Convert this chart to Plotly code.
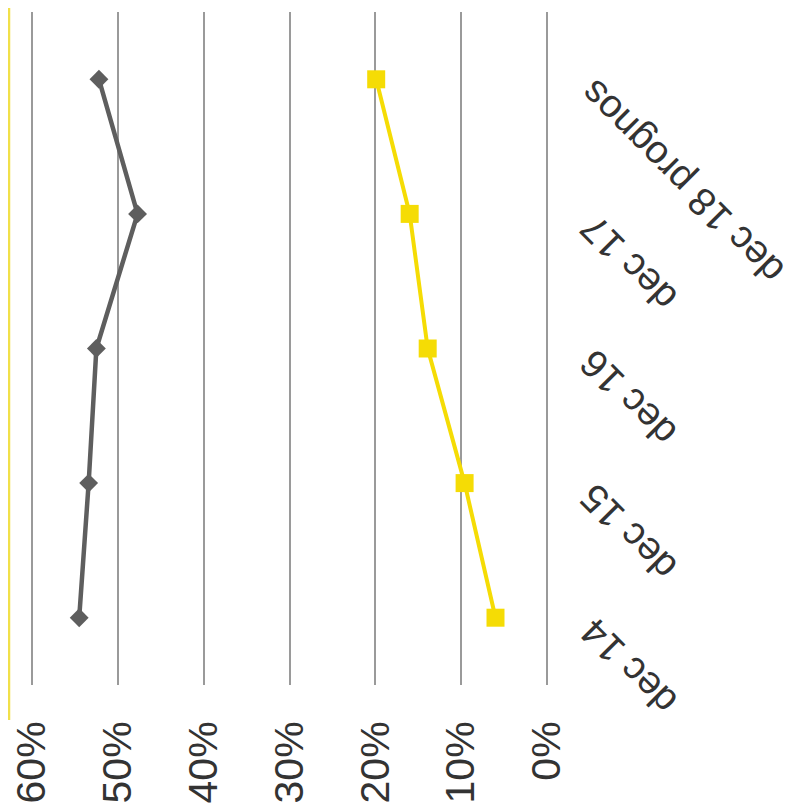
import plotly.graph_objects as go

categories = ["dec 14", "dec 15", "dec 16", "dec 17", "dec 18 prognos"]
grey_values = [0.545, 0.534, 0.525, 0.477, 0.522]
yellow_values = [0.060, 0.096, 0.139, 0.160, 0.199]
tick_vals = [0.0, 0.1, 0.2, 0.3, 0.4, 0.5, 0.6]
tick_text = ["0%", "10%", "20%", "30%", "40%", "50%", "60%"]

# The page body has an 8px margin, so the figure is 8px smaller and all
# figure coordinates are page coordinates minus 8.
OFF = 8
W, H = 793 - OFF, 809 - OFF
px_per_unit = 515 / 0.6
ext = 2 / px_per_unit
# plot area in page pixels: x 30..549 (0.6+ext .. -ext), y 12..685
L = 30 - OFF
R = W - (549 - OFF)
T = 12 - OFF
B = H - (685 - OFF)
plot_w = W - L - R
plot_h = H - T - B

FONT = "Liberation Sans, Arial, sans-serif"
TXT = "#333333"

fig = go.Figure()
fig.add_trace(go.Scatter(
    x=grey_values, y=categories, mode="lines+markers",
    line=dict(color="#5e5e5e", width=4.5),
    marker=dict(symbol="diamond", size=14.5, color="#5e5e5e"),
    showlegend=False, hoverinfo="skip",
))
fig.add_trace(go.Scatter(
    x=yellow_values, y=categories, mode="lines+markers",
    line=dict(color="#F5DC05", width=4),
    marker=dict(symbol="square", size=18, color="#F5DC05"),
    showlegend=False, hoverinfo="skip",
))

# category labels (rotated, to the right of the plot)
for c in categories:
    fig.add_annotation(
        x=((569 - OFF) - L) / plot_w, xref="paper", xanchor="left",
        y=c, yref="y", yanchor="top", yshift=10,
        text=c, textangle=-135, showarrow=False,
        font=dict(family=FONT, size=39, color=TXT),
    )

# yellow frame edge at the far left
fig.add_shape(type="line", xref="paper", yref="paper",
              x0=(1 - L) / plot_w, x1=(1 - L) / plot_w,
              y0=-35 / plot_h, y1=1 + T / plot_h,
              line=dict(color="#F1E04A", width=2.5))

fig.update_xaxes(
    range=[0.6 + ext, -ext], tickvals=tick_vals, ticktext=tick_text,
    tickangle=-90, showgrid=True, gridcolor="#9a9a9a", gridwidth=1.5,
    zeroline=False, showline=False, automargin=False,
    ticks="outside", ticklen=19, tickcolor="rgba(0,0,0,0)",
    tickfont=dict(family=FONT, size=41, color=TXT),
)
fig.update_yaxes(
    categoryorder="array", categoryarray=categories,
    range=[-0.5, 4.5], showgrid=False, zeroline=False,
    showticklabels=False, showline=False, automargin=False,
)
fig.update_layout(
    width=W, height=H,
    margin=dict(l=L, r=R, t=T, b=B, pad=0, autoexpand=False),
    plot_bgcolor="white", paper_bgcolor="white",
)
fig.write_html("out.html")
